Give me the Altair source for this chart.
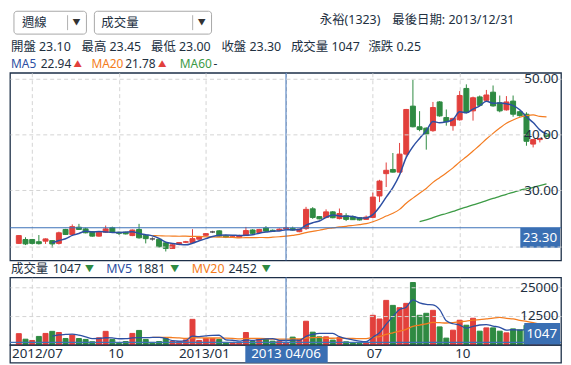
import altair as alt
import pandas as pd

# ---------------- data (weekly candles) ----------------
OPEN = [20.5, 21.2, 21.2, 20.8, 20.9, 21.0, 20.5, 23.0, 22.1, 23.4,
        23.1, 22.6, 21.8, 22.5, 23.3, 22.5, 22.5, 21.9, 23.0, 21.95,
        21.3, 21.25, 20.6, 19.6, 20.35, 20.7, 20.65, 21.25, 21.95, 22.55,
        22.75, 21.85, 21.6, 21.6, 21.9, 22.9, 22.45, 23.25, 22.85, 22.85,
        23.10, 23.2, 22.6, 23.15, 26.7, 25.3, 25.15, 26.15, 24.95, 25.45,
        25.3, 25.1, 24.8, 25.15, 29.0, 33.0, 33.75, 33.27, 36.5, 45.1,
        41.4, 41.15, 40.7, 45.85, 43.05, 41.6, 42.65, 48.27, 44.25, 46.75,
        46.14, 47.6, 45.7, 44.43, 46.0, 44.1, 43.65, 38.3, 39.1, 40.1]
HIGH = [22.0, 21.6, 21.3, 22.0, 21.4, 21.1, 22.6, 23.1, 23.9, 24.0,
        23.3, 22.7, 22.6, 23.7, 23.5, 22.6, 22.6, 23.0, 24.0, 22.0,
        21.6, 21.35, 20.75, 20.35, 20.75, 20.95, 23.05, 21.85, 22.35, 22.75,
        22.85, 22.05, 21.85, 22.05, 23.45, 23.05, 23.1, 23.6, 23.0, 23.2,
        23.45, 23.5, 23.1, 27.05, 27.0, 25.4, 26.6, 26.3, 26.75, 25.9,
        25.5, 25.2, 25.5, 29.6, 31.9, 35.0, 36.7, 38.5, 44.6, 49.8,
        44.2, 41.3, 45.85, 46.0, 44.5, 43.0, 47.8, 49.0, 46.8, 47.0,
        48.0, 48.8, 47.0, 46.9, 47.0, 44.3, 44.0, 39.2, 39.4, 40.3]
LOW = [20.4, 20.2, 20.3, 20.3, 20.4, 19.7, 20.3, 22.0, 22.0, 22.9,
       22.3, 21.7, 21.7, 22.4, 22.4, 22.0, 22.1, 21.8, 21.35, 20.5,
       21.0, 19.75, 19.05, 19.55, 20.15, 20.55, 20.55, 21.15, 21.85, 22.35,
       21.65, 21.45, 21.55, 21.55, 21.85, 22.15, 22.35, 22.55, 22.55, 22.8,
       23.00, 22.8, 22.5, 22.9, 24.9, 24.8, 25.0, 25.0, 24.8, 24.5,
       24.7, 24.6, 24.7, 25.0, 27.9, 30.6, 33.2, 33.2, 36.0, 41.3,
       40.6, 37.3, 40.5, 43.2, 41.6, 40.7, 42.5, 43.8, 42.5, 45.1,
       45.9, 45.0, 44.0, 44.3, 43.2, 43.2, 38.0, 37.7, 38.6, 39.5]
CLOSE = [21.9, 20.4, 20.5, 20.45, 21.3, 20.4, 22.4, 22.1, 23.5, 23.0,
         22.4, 21.8, 22.5, 23.1, 22.5, 22.3, 22.2, 22.9, 21.5, 21.35,
         21.3, 19.9, 19.6, 20.25, 20.65, 20.8, 21.35, 21.75, 22.25, 22.55,
         21.8, 21.6, 21.7, 21.85, 22.8, 22.3, 23.0, 22.7, 22.65, 23.05,
         23.30, 22.9, 23.05, 26.6, 25.15, 24.9, 26.15, 25.1, 25.85, 24.8,
         24.75, 24.7, 25.2, 28.8, 31.67, 33.6, 33.27, 36.5, 44.5, 41.4,
         40.9, 40.1, 44.85, 43.35, 42.3, 42.9, 47.0, 43.95, 46.6, 45.25,
         47.1, 45.14, 44.25, 45.85, 43.65, 43.4, 38.8, 39.1, 39.3, 39.7]
VOLUME = [4850, 2450, 1900, 3650, 4950, 5850, 5350, 2750, 4250, 2750,
          2350, 1350, 3050, 5850, 2350, 600, 1450, 4950, 6250, 2350,
          1050, 1450, 2750, 1450, 1450, 2150, 11050, 1900, 2750, 2750,
          2350, 1050, 1050, 750, 5350, 1450, 2600, 2600, 1600, 1558,
          1047, 3350, 2350, 10230, 5500, 3480, 3480, 2060, 3220, 1330,
          900, 650, 800, 12800, 11200, 19260, 17100, 16100, 17970, 27000,
          12800, 13670, 14960, 7780, 2920, 6360, 10660, 8510, 11520, 5930,
          7350, 7350, 5930, 5200, 6920, 6500, 8500, 5000, 3500, 3000]
TICK_IDX = [2, 15, 28, 40, 53, 66]
TICK_LABELS = ["2012/07", "10", "2013/01", "04", "07", "10"]
PRICE_TICKS = [20, 30, 40, 50]
VOL_TICKS = [12500, 25000]
CROSS_IDX = 40
CROSS_DATE = "2013 04/06"
STOCK = "永裕(1323)"
LAST_DATE = "2013/12/31"
MA5_TXT, MA20_TXT = "22.94", "21.78"
MV5_TXT, MV20_TXT = "1881", "2452"

# ---------------- styles ----------------
FONT = "Noto Sans, Noto Sans CJK TC, sans-serif"
RED = "#e2403c"
GREEN = "#2e8a42"
GRAY = "#555555"
BLUE_MA = "#2d4fa3"
ORANGE = "#f47c20"
GREEN_MA = "#3d9b46"
CROSS = "#3d72b8"
BOX = "#3a6fb3"
NAVY = "#1d2f48"
GRID = "#d4d4d4"
TEXT = "#22303f"
HS = 12     # header font size
AS = 13.5   # axis font size

W = 555
H_MAIN = 189
H_VOL = 68
H_BAND = 18
XDOM = [-0.58, 80.43]
YDOM = [17.44, 51.07]
VDOM = [0, 29240]

N = len(CLOSE)
df = pd.DataFrame({"idx": list(range(N)), "open": OPEN, "high": HIGH,
                   "low": LOW, "close": CLOSE, "vol": VOLUME})
tick_df = pd.DataFrame({"idx": TICK_IDX, "label": TICK_LABELS})
cross_df = pd.DataFrame({"idx": [CROSS_IDX], "close": [CLOSE[CROSS_IDX]],
                         "vol": [VOLUME[CROSS_IDX]], "date": [CROSS_DATE]})
dummy = pd.DataFrame({"a": [0]})

xgrid_axis = alt.Axis(values=TICK_IDX, grid=True, gridDash=[4, 3], gridColor=GRID,
                      labels=False, ticks=False, domain=False, title=None)


def xenc(axis=xgrid_axis):
    return alt.X("idx:Q", scale=alt.Scale(domain=XDOM, nice=False, zero=False), axis=axis)


def yaxis(values, fmt, hide=None):
    kw = {}
    if hide is not None:
        kw["labelExpr"] = f"datum.value == {hide} ? '' : datum.label"
    return alt.Axis(orient="right", values=values, format=fmt, grid=True, gridDash=[4, 3],
                    gridColor=GRID, labelAlign="right", labelPadding=-3, tickSize=0,
                    ticks=False, domain=False, title=None, labelFont=FONT,
                    labelFontSize=AS, labelColor=TEXT, labelBaseline="middle",
                    zindex=1, **kw)


def ymain(field):
    return alt.Y(field, scale=alt.Scale(domain=YDOM, nice=False, zero=False),
                 axis=yaxis(PRICE_TICKS, ".2f", hide=PRICE_TICKS[0]))


def yvol(field):
    return alt.Y(field, scale=alt.Scale(domain=VDOM, nice=False, zero=False),
                 axis=yaxis(VOL_TICKS, "d"))


def label(s, x, y, color=TEXT, size=HS, align="left"):
    return alt.Chart(dummy).mark_text(text=s, align=align, baseline="middle", font=FONT,
                                      fontSize=size, color=color).encode(
        x=alt.value(x), y=alt.value(y))


dir_scale = alt.Scale(domain=["up", "down", "flat"], range=[RED, GREEN, GRAY])

# ---------------- main (price) panel ----------------
cbase = alt.Chart(df).transform_calculate(
    dir="datum.close > datum.open ? 'up' : (datum.close < datum.open ? 'down' : 'flat')")
wicks = cbase.mark_rule(strokeWidth=1).encode(
    x=xenc(), y=ymain("low:Q"), y2="high:Q",
    color=alt.Color("dir:N", scale=dir_scale, legend=None))
bodies = cbase.mark_bar(size=5, strokeWidth=1).encode(
    x=xenc(), y=ymain("open:Q"), y2="close:Q",
    color=alt.Color("dir:N", scale=dir_scale, legend=None),
    stroke=alt.Stroke("dir:N", scale=dir_scale, legend=None))


def ma_line(n, color, width, ybuilder, src):
    return alt.Chart(df).transform_window(
        m=f"mean({src})", frame=[-(n - 1), 0], sort=[alt.SortField("idx")]
    ).transform_filter(f"datum.idx >= {n}").mark_line(
        color=color, strokeWidth=width, interpolate="monotone").encode(
        x=xenc(), y=ybuilder("m:Q"))


ma5 = ma_line(5, BLUE_MA, 1.5, ymain, "close")
ma20 = ma_line(20, ORANGE, 1.2, ymain, "close")
ma60 = ma_line(60, GREEN_MA, 1.3, ymain, "close")

vline = alt.Chart(cross_df).mark_rule(color=CROSS, strokeWidth=1).encode(x=xenc())
hline = alt.Chart(cross_df).mark_rule(color=CROSS, strokeWidth=1.2).encode(y=ymain("close:Q"))
pbox = alt.Chart(cross_df).mark_rect(color=BOX, y2Offset=20).encode(
    x=alt.value(W - 41), x2=alt.value(W - 1), y=ymain("close:Q"), y2="close:Q")
ptext = alt.Chart(cross_df).mark_text(align="right", baseline="middle", dy=10, color="white",
                                      font=FONT, fontSize=AS).encode(
    x=alt.value(W - 4), y=ymain("close:Q"), text=alt.Text("close:Q", format=".2f"))

# header
box1 = alt.Chart(dummy).mark_rect(fill="white", stroke="#a8a8a8", strokeWidth=1, cornerRadius=3).encode(
    x=alt.value(4), x2=alt.value(77), y=alt.value(-62), y2=alt.value(-39))
box2 = alt.Chart(dummy).mark_rect(fill="white", stroke="#a8a8a8", strokeWidth=1, cornerRadius=3).encode(
    x=alt.value(85), x2=alt.value(203), y=alt.value(-62), y2=alt.value(-39))
sep1 = alt.Chart(dummy).mark_rule(color="#b0b0b0").encode(x=alt.value(58), y=alt.value(-58), y2=alt.value(-43))
sep2 = alt.Chart(dummy).mark_rule(color="#b0b0b0").encode(x=alt.value(184), y=alt.value(-58), y2=alt.value(-43))

i = CROSS_IDX
header = [
    box1, box2, sep1, sep2,
    label("週線", 12, -50.5, size=12.5), label("▼", 67, -50.5, "#333", 8, "center"),
    label("成交量", 92, -50.5, size=12.5), label("▼", 193, -50.5, "#333", 8, "center"),
    label(STOCK, 312, -53, size=12.5), label(f"最後日期: {LAST_DATE}", 385, -53, size=12.5),
    label(f"開盤 {OPEN[i]:.2f}", 1, -25.5, size=12.5),
    label(f"最高 {HIGH[i]:.2f}", 72, -25.5, size=12.5),
    label(f"最低 {LOW[i]:.2f}", 142, -25.5, size=12.5),
    label(f"收盤 {CLOSE[i]:.2f}", 213, -25.5, size=12.5),
    label(f"成交量 {VOLUME[i]}", 283, -25.5, size=12.5),
    label(f"漲跌 {CLOSE[i] - CLOSE[i - 1]:.2f}", 361, -25.5, size=12.5),
    label("MA5", 1, -9, BLUE_MA), label(MA5_TXT, 31, -9), label("▲", 64, -9, RED, 8.5),
    label("MA20", 82, -9, ORANGE), label(MA20_TXT, 116, -9), label("▲", 149, -9, RED, 8.5),
    label("MA60", 171, -9, GREEN_MA), label("-", 205, -9),
]

main = alt.layer(wicks, bodies, ma60, ma20, ma5, vline, hline, pbox, ptext, *header).properties(
    width=W, height=H_MAIN)

# ---------------- volume panel ----------------
vbase = alt.Chart(df).transform_window(
    prev="lag(close)", sort=[alt.SortField("idx")]
).transform_calculate(
    vdir="datum.prev == null ? 'none' : (datum.close > datum.prev ? 'up' : (datum.close < datum.prev ? 'down' : 'flat'))")
vfill = alt.Scale(domain=["up", "down", "flat", "none"], range=[RED, GREEN, GRAY, "white"])
vstroke = alt.Scale(domain=["up", "down", "flat", "none"], range=[RED, GREEN, GRAY, "#777777"])
vbars = vbase.mark_bar(size=5, strokeWidth=1).encode(
    x=xenc(), y=yvol("vol:Q"),
    color=alt.Color("vdir:N", scale=vfill, legend=None),
    stroke=alt.Stroke("vdir:N", scale=vstroke, legend=None))
mv5 = ma_line(5, BLUE_MA, 1.3, yvol, "vol")
mv20 = ma_line(20, ORANGE, 1.3, yvol, "vol")
vvline = alt.Chart(cross_df).mark_rule(color=CROSS, strokeWidth=1).encode(x=xenc())
vhline = alt.Chart(cross_df).mark_rule(color=CROSS, strokeWidth=1.2).encode(y=yvol("vol:Q"))
vbox = alt.Chart(cross_df).mark_rect(color=BOX).encode(
    x=alt.value(W - 37), x2=alt.value(W - 1), y=alt.value(H_VOL - 22), y2=alt.value(H_VOL))
vtext = alt.Chart(cross_df).mark_text(align="right", baseline="middle", color="white",
                                      font=FONT, fontSize=AS).encode(
    x=alt.value(W - 4), y=alt.value(H_VOL - 11), text="vol:Q")
vheader = [
    label("成交量", 1, -8.5, size=12.5), label(str(VOLUME[i]), 43, -8.5, size=12.5),
    label("▼", 80, -8.5, GREEN, 9, "center"),
    label("MV5", 97, -8.5, BLUE_MA, 12.5), label(MV5_TXT, 128, -8.5, size=12.5),
    label("▼", 166, -8.5, GREEN, 9, "center"),
    label("MV20", 183, -8.5, ORANGE, 12.5), label(MV20_TXT, 220, -8.5, size=12.5),
    label("▼", 258, -8.5, GREEN, 9, "center"),
]
vol = alt.layer(vbars, mv20, mv5, vvline, vhline, vbox, vtext, *vheader).properties(
    width=W, height=H_VOL)

# ---------------- date band ----------------
band_x = alt.X("idx:Q", scale=alt.Scale(domain=XDOM, nice=False, zero=False), axis=None)
shown = tick_df[tick_df["idx"] != CROSS_IDX]   # the crosshair date box covers its month label
first_lab = alt.Chart(shown.iloc[:1]).mark_text(align="left", baseline="middle", font=FONT,
                                                fontSize=AS, color=TEXT).encode(
    x=alt.value(2), y=alt.value(9.5), text="label:N")
other_lab = alt.Chart(shown.iloc[1:]).mark_text(align="center", baseline="middle", font=FONT,
                                                fontSize=AS, color=TEXT).encode(
    x=band_x, y=alt.value(9.5), text="label:N")
dbox = alt.Chart(cross_df).mark_rect(color=BOX, xOffset=-41, x2Offset=42).encode(
    x=band_x, x2="idx:Q", y=alt.value(1), y2=alt.value(H_BAND))
dtext = alt.Chart(cross_df).mark_text(align="center", baseline="middle", font=FONT,
                                      fontSize=AS, color="white").encode(
    x=band_x, y=alt.value(9.5), text="date:N")
band = alt.layer(first_lab, other_lab, dbox, dtext).properties(width=W, height=H_BAND)

lower = alt.vconcat(vol, band, spacing=0, bounds="flush")
chart = alt.vconcat(main, lower, spacing=17, bounds="flush").properties(
    padding=0, background="white"
).configure_view(stroke=NAVY, strokeWidth=1.3).configure_text(font=FONT)

chart.save("out.html", embed_options={"renderer": "svg", "actions": False})
